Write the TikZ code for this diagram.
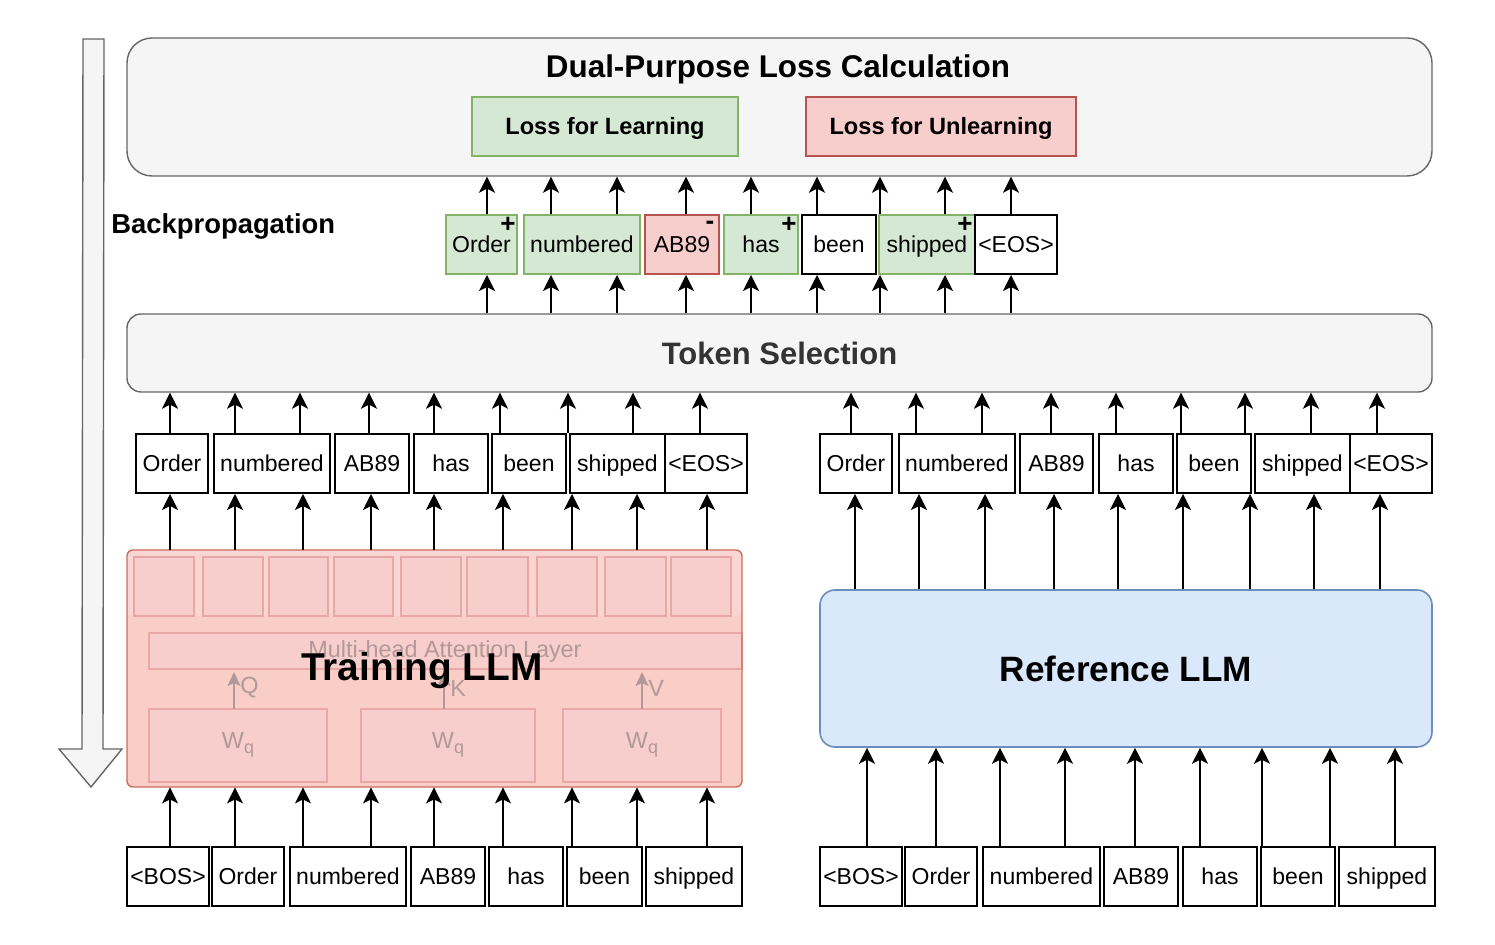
\documentclass[tikz,border=0pt]{standalone}
\usepackage{fontspec}
\setmainfont{Liberation Sans}
\usetikzlibrary{arrows.meta}
\definecolor{boxgray}{HTML}{F5F5F5}
\definecolor{linegray}{HTML}{666666}
\definecolor{okfill}{HTML}{D5E8D4}
\definecolor{okline}{HTML}{82B366}
\definecolor{badfill}{HTML}{F8CECC}
\definecolor{badline}{HTML}{B85450}
\definecolor{reffill}{HTML}{DAE8FC}
\definecolor{refline}{HTML}{6C8EBF}
\definecolor{ghost}{RGB}{178,152,152}
\definecolor{innerline}{HTML}{E8A8A6}
\definecolor{lowband}{HTML}{F9CEC6}
\definecolor{topband}{HTML}{F9D6D3}
\tikzset{
  tok/.style={draw,line width=1pt,inner sep=0pt,minimum height=29.5pt,text height=9.6pt,text depth=1.6pt,
    font=\fontsize{11.5}{13}\selectfont},
  tokok/.style={fill=okfill,draw=okline},
  tokbad/.style={fill=badfill,draw=badline},
  toknone/.style={fill=white},
  arr/.style={-{Stealth[length=8pt,width=8pt,inset=2pt]},line width=1pt},
  panel/.style={draw=linegray,fill=boxgray,line width=.7pt},
  sign/.style={inner sep=0pt,font=\bfseries\fontsize{13}{13}\selectfont},
  ghostbox/.style={draw=innerline,fill=badfill,line width=.7pt},
}
\begin{document}
\begin{tikzpicture}[x=.5pt,y=-.5pt]
\useasboundingbox (0,0) rectangle (1495,945);
% backpropagation arrow
\draw[linegray,fill=boxgray,line width=.7pt] (83,39) -- (104,39) -- (103,749) -- (122,749)
  -- (91,787) -- (59,749) -- (82,749) -- cycle;
\node[anchor=west,inner sep=0pt,font=\bfseries\fontsize{13.7}{15}\selectfont] (bp) at (111,226) {Backpropagation};

% loss panel
\node[panel,rounded corners=12.5pt,minimum width=652.5pt,minimum height=69pt] (loss) at (779.5,107) {};
\node[font=\bfseries\fontsize{15.7}{18}\selectfont] (losstitle) at (778,69) {Dual-Purpose Loss Calculation};
\node[tok,tokok,line width=.7pt,minimum width=133pt,font=\bfseries\fontsize{11.8}{13}\selectfont] (learn) at (605,126.5) {Loss for Learning};
\node[tok,tokbad,line width=.7pt,minimum width=135pt,font=\bfseries\fontsize{11.8}{13}\selectfont] (unlearn) at (941,126.5) {Loss for Unlearning};

% token selection panel
\node[panel,rounded corners=7pt,minimum width=652.5pt,minimum height=39pt,text=black!80,
  font=\bfseries\fontsize{15.5}{18}\selectfont] (sel) at (779.5,353) {Token Selection};

% selected tokens
\foreach \l/\r/\s/\t [count=\i] in {446/517/tokok/Order,524/640/tokok/numbered,645/719/tokbad/AB89,
  724/798/tokok/has,802/876/toknone/been,879/975/tokok/shipped,975/1057/toknone/<EOS>}{
  \node[tok,\s,minimum width={(\r-\l)*0.5pt}] (o\i) at ({(\l+\r)/2},244.5) {\t};
}
\node[sign] at ([shift={(-10,11)}]o1.north east) {+};
\node[sign] at ([shift={(-10,11)}]o3.north east) {-};
\node[sign] at ([shift={(-10,11)}]o4.north east) {+};
\node[sign] at ([shift={(-11,11)}]o6.north east) {+};

% output tokens of both models
\foreach \l/\r/\t [count=\i] in {136/208/Order,214/330/numbered,335/409/AB89,414/488/has,
  492/566/been,570/665/shipped,665/747/<EOS>}{
  \node[tok,toknone,minimum width={(\r-\l)*0.5pt}] (a\i) at ({(\l+\r)/2},463.5) {\t};
}
\foreach \l/\r/\t [count=\i] in {820/892/Order,899/1015/numbered,1020/1093/AB89,1099/1173/has,
  1177/1251/been,1255/1350/shipped,1350/1432/<EOS>}{
  \node[tok,toknone,minimum width={(\r-\l)*0.5pt}] (b\i) at ({(\l+\r)/2},463.5) {\t};
}

% input tokens of both models
\foreach \l/\r/\t [count=\i] in {127/209/<BOS>,212/284/Order,290/406/numbered,411/485/AB89,
  489/563/has,567/642/been,646/742/shipped}{
  \node[tok,toknone,minimum width={(\r-\l)*0.5pt}] (c\i) at ({(\l+\r)/2},876.5) {\t};
}
\foreach \l/\r/\t [count=\i] in {820/902/<BOS>,905/977/Order,983/1100/numbered,1104/1178/AB89,
  1183/1257/has,1261/1335/been,1339/1435/shipped}{
  \node[tok,toknone,minimum width={(\r-\l)*0.5pt}] (d\i) at ({(\l+\r)/2},876.5) {\t};
}

% training LLM
\node[fill=lowband,rounded corners=3pt,minimum width=307.5pt,minimum height=118.5pt] (trn) at (434.5,668.5) {};
\fill[topband,rounded corners=3pt] (127,550) rectangle (742,616);
\foreach \l/\r in {134/194,203/263,269/328,334/393,401/461,467/528,537/597,605/666,671/731}
  \draw[ghostbox] (\l,557) rectangle (\r,616);
\draw[ghostbox] (149,633) rectangle (742,669);
\node[text=ghost,font=\fontsize{11.7}{13}\selectfont] (mha) at (445,651) {Multi-head Attention Layer};
\foreach \l/\r [count=\i] in {149/327,361/535,563/721}{
  \draw[ghostbox] (\l,709) rectangle (\r,782);
  \node[text=ghost,font=\fontsize{11.7}{13}\selectfont] (w\i) at ({(\l+\r)/2},745)
    {W\raisebox{-.45ex}{\fontsize{9}{9}\selectfont q}};
}
\foreach \x/\q in {234/Q,444/K,642/V}{
  \draw[ghost,line width=1pt,-{Stealth[length=7pt,width=6.5pt,inset=1.5pt]}] (\x,709) -- (\x,672);
  \node[text=ghost,anchor=west,inner sep=0pt,font=\fontsize{11.7}{13}\selectfont] at (\x+6,688) {\q};
}
\node[font=\bfseries\fontsize{19.4}{22}\selectfont] (trnlabel) at (422,671) {Training LLM};
\draw[draw={rgb,255:red,200;green,110;blue,90},line width=.7pt,rounded corners=3pt] (127,550) rectangle (742,787);

% reference LLM
\node[draw=refline,fill=reffill,line width=.8pt,rounded corners=7.5pt,minimum width=306pt,minimum height=78.5pt,
  font=\bfseries\fontsize{17.6}{20}\selectfont] (ref) at (1126,668.5) {Reference LLM};

% connectors
\foreach \x in {487,551,617,686,751,817,880,945,1011}{
  \draw[arr] (\x,0 |- o1.north) -- (\x,0 |- loss.south);
  \draw[arr] (\x,0 |- sel.north) -- (\x,0 |- o1.south);
}
\foreach \x in {170,235,300,369,434,500,568,633,700}
  \draw[arr] (\x,0 |- a1.north) -- (\x,0 |- sel.south);
\foreach \x in {851,916,982,1051,1116,1181,1245,1311,1377}
  \draw[arr] (\x,0 |- b1.north) -- (\x,0 |- sel.south);
\foreach \x in {170,235,303,371,434,503,572,637,707}{
  \draw[arr] (\x,0 |- trn.north) -- (\x,0 |- a1.south);
  \draw[arr] (\x,0 |- c1.north) -- (\x,0 |- trn.south);
}
\foreach \x in {855,919,985,1054,1118,1183,1250,1314,1380}
  \draw[arr] (\x,0 |- ref.north) -- (\x,0 |- b1.south);
\foreach \x in {867,936,1000,1065,1135,1200,1262,1330,1395}
  \draw[arr] (\x,0 |- d1.north) -- (\x,0 |- ref.south);
\end{tikzpicture}
\end{document}
